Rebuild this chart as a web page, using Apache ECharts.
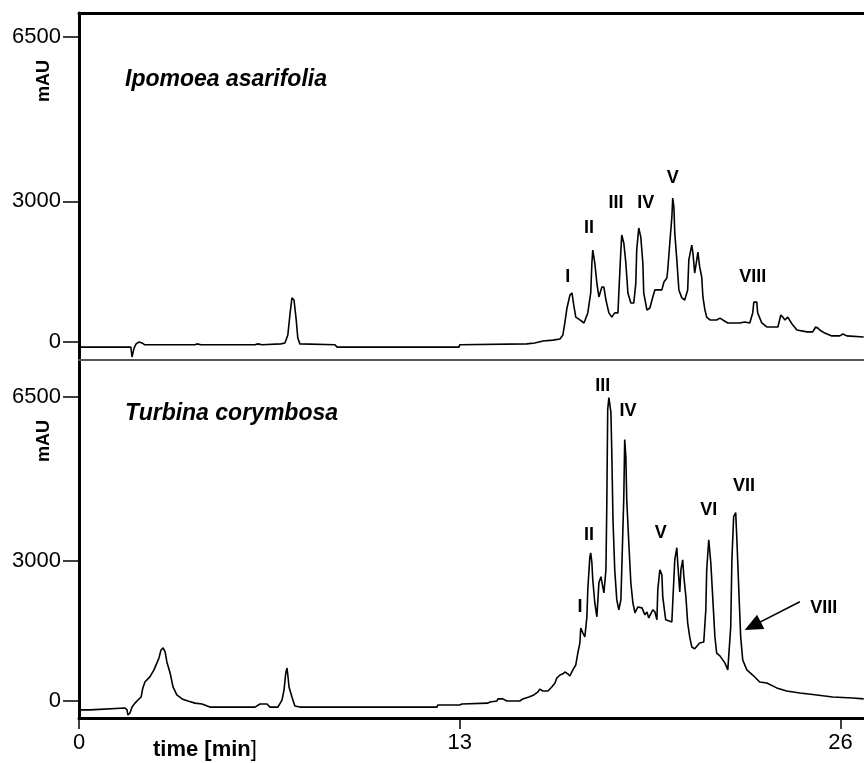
<!DOCTYPE html>
<html>
<head>
<meta charset="utf-8">
<script src="https://cdn.jsdelivr.net/npm/echarts@6/dist/echarts.min.js"></script>
<style>
html,body{margin:0;padding:0;background:#fff;}
#chart{width:864px;height:763px;}
</style>
</head>
<body>
<div id="chart"></div>
<script>
// ---- data (time in min, absorbance in mAU) ----
const timeTicks = [0, 13, 26];
const mauTicks = [0, 3000, 6500];
const panelTitles = ['Ipomoea asarifolia', 'Turbina corymbosa'];
const yAxisTitle = 'mAU';
const xAxisTitle = 'time [min';

const ipomoeaTrace = [
 [0,-110],[1.77,-110],[1.81,-320],[1.84,-340],[1.88,-130],[1.95,-40],[2.05,0],[2.15,-20],[2.25,-60],
 [3.11,-60],[3.17,-40],[3.28,-60],[3.96,-60],[4.03,-40],[4.16,-60],[6.01,-60],[6.11,-40],[6.25,-60],
 [6.89,-40],[7.03,-20],[7.13,150],[7.20,575],[7.27,940],[7.34,895],[7.41,510],[7.47,85],[7.54,-40],
 [8.74,-60],[8.81,-110],[12.97,-110],[13.00,-60],[15.29,-40],[15.56,-20],[15.84,20],[16.18,40],[16.42,65],
 [16.52,150],[16.59,425],[16.66,725],[16.76,1000],[16.83,1045],[16.89,790],[16.96,530],[17.10,470],
 [17.24,405],[17.37,620],[17.47,1045],[17.51,1680],[17.54,1960],[17.61,1680],[17.68,1255],[17.75,960],
 [17.85,1170],[17.92,1170],[17.99,895],[18.09,620],[18.19,530],[18.29,620],[18.40,620],[18.43,1045],
 [18.50,1960],[18.53,2280],[18.60,2110],[18.67,1680],[18.74,1045],[18.84,830],[18.94,830],[19.01,1255],
 [19.04,1960],[19.11,2430],[19.18,2235],[19.25,1680],[19.28,1045],[19.39,680],[19.49,725],[19.59,960],
 [19.66,1110],[19.76,1110],[19.90,1110],[19.97,1280],[20.07,1365],[20.10,1535],[20.17,2110],[20.24,2660],
 [20.27,3070],[20.31,2875],[20.34,2320],[20.41,1750],[20.48,1110],[20.58,940],[20.68,895],[20.78,1110],
 [20.82,1750],[20.92,2065],[20.96,1895],[21.02,1470],[21.09,1750],[21.13,1915],[21.19,1600],[21.26,1385],
 [21.30,960],[21.37,680],[21.43,530],[21.54,470],[21.77,470],[21.88,510],[21.98,470],[22.15,405],
 [22.56,405],[22.73,425],[22.90,405],[23.00,620],[23.04,850],[23.14,850],[23.17,620],[23.31,405],
 [23.48,320],[23.86,320],[23.96,575],[24.03,530],[24.10,470],[24.20,530],[24.30,425],[24.37,360],
 [24.51,255],[24.85,215],[25.05,215],[25.15,320],[25.22,300],[25.29,255],[25.46,190],[25.70,130],
 [25.97,130],[26.08,170],[26.21,130],[26.79,105]
];

const turbinaTrace = [
 [0,-190],[0.38,-190],[0.44,-150],[1.57,-150],[1.64,-190],[1.67,-300],[1.74,-255],[1.81,-130],[1.91,-45],
 [2.01,20],[2.12,85],[2.18,280],[2.25,405],[2.42,515],[2.56,665],[2.66,815],[2.73,920],[2.80,1090],
 [2.87,1135],[2.94,1050],[3.00,835],[3.11,600],[3.21,300],[3.34,130],[3.52,45],[3.72,0],[3.96,-45],
 [4.20,-65],[4.47,-130],[6.01,-130],[6.18,-65],[6.42,-65],[6.52,-130],[6.79,-130],[6.93,20],[7.00,235],
 [7.06,600],[7.10,705],[7.13,555],[7.17,300],[7.27,85],[7.37,-105],[7.54,-130],[12.22,-130],[12.25,-85],
 [13.00,-85],[13.07,-65],[13.96,-45],[14.03,-20],[14.27,0],[14.30,45],[14.47,45],[14.61,0],[15.05,0],
 [15.15,45],[15.36,85],[15.53,130],[15.67,195],[15.73,255],[15.84,215],[16.01,215],[16.14,300],[16.25,385],
 [16.31,490],[16.42,555],[16.52,580],[16.59,620],[16.69,580],[16.76,535],[16.86,665],[16.96,770],
 [17.03,1025],[17.10,1240],[17.13,1560],[17.20,1455],[17.27,1370],[17.34,1800],[17.37,2375],[17.44,3080],
 [17.47,3165],[17.51,2955],[17.54,2590],[17.61,2095],[17.68,1800],[17.75,2525],[17.82,2655],[17.85,2545],
 [17.92,2310],[17.99,2805],[18.02,4235],[18.05,6225],[18.09,6485],[18.16,6165],[18.19,5305],[18.23,3875],
 [18.29,2805],[18.36,2160],[18.43,1950],[18.50,2160],[18.53,2805],[18.60,4365],[18.63,5585],[18.67,5220],
 [18.70,4300],[18.77,3380],[18.84,2525],[18.91,2095],[18.98,1885],[19.08,2010],[19.22,1990],[19.32,1840],
 [19.39,1905],[19.45,1775],[19.59,1950],[19.66,1905],[19.73,1735],[19.76,2375],[19.83,2805],[19.90,2695],
 [19.93,2225],[20.03,1735],[20.24,1690],[20.27,2095],[20.34,3015],[20.41,3275],[20.44,2955],[20.51,2330],
 [20.55,2805],[20.61,3015],[20.65,2655],[20.72,2225],[20.78,1670],[20.85,1370],[20.92,1155],[21.02,1115],
 [21.19,1240],[21.33,1260],[21.40,1950],[21.43,2805],[21.50,3445],[21.57,2955],[21.64,2160],[21.71,1370],
 [21.77,1025],[21.88,965],[22.05,815],[22.15,665],[22.25,1585],[22.29,3015],[22.35,3940],[22.42,4025],
 [22.46,3445],[22.53,2310],[22.59,1370],[22.66,875],[22.80,665],[23.00,555],[23.24,405],[23.48,385],
 [23.82,280],[24.16,215],[24.61,170],[25.19,130],[25.73,85],[26.42,65],[26.79,45]
];

// peak labels: [time, mAU at label centre, name]
const ipomoeaPeaks = [
 [16.69,1385,'I'],[17.41,2430,'II'],[18.33,2960,'III'],[19.35,2960,'IV'],[20.27,3490,'V'],[23.00,1385,'VIII']
];
const turbinaPeaks = [
 [17.10,2010,'I'],[17.41,3550,'II'],[17.88,6740,'III'],[18.74,6185,'IV'],[19.86,3595,'V'],
 [21.50,4090,'VI'],[22.70,4600,'VII'],[25.43,1990,'VIII']
];
// arrow pointing at peak VIII (tail -> head) in the lower trace
const arrowTail = [24.61, 2120];
const arrowHead = [23.00, 1605];

// ---- chart ----
const chart = echarts.init(document.getElementById('chart'), null, {renderer: 'canvas'});
const FONT = '"Liberation Sans", Arial, sans-serif';
const XMAX = 26.8;

function xAxisBase(gridIndex, extra) {
  return Object.assign({
    type: 'value', gridIndex: gridIndex, min: 0, max: XMAX,
    splitLine: {show: false}, axisTick: {show: false}, axisLabel: {show: false}
  }, extra);
}
function yAxisBase(gridIndex, min, max) {
  return {
    type: 'value', gridIndex: gridIndex, min: min, max: max,
    splitLine: {show: false},
    axisLine: {show: true, lineStyle: {color: '#000', width: 3}},
    axisTick: {show: true, length: 16, customValues: mauTicks, lineStyle: {color: '#000', width: 1.5}},
    axisLabel: {show: true, customValues: mauTicks, margin: 18, color: '#000', fontSize: 22,
      fontFamily: FONT, formatter: v => String(v)}
  };
}
function peakSeries(data, xi, yi) {
  return {
    type: 'scatter', xAxisIndex: xi, yAxisIndex: yi, data: data,
    symbolSize: 0, itemStyle: {color: '#000', opacity: 1}, silent: true, z: 5,
    emphasis: {disabled: true},
    label: {show: true, position: 'inside', formatter: p => p.data[2],
      color: '#000', opacity: 1, fontSize: 18, fontWeight: 'bold', fontFamily: FONT}
  };
}

const option = {
  animation: false,
  backgroundColor: '#fff',
  grid: [
    {left: 79, top: 13, right: 0, height: 347},
    {left: 79, top: 360, right: 0, height: 358}
  ],
  xAxis: [
    xAxisBase(0, {position: 'bottom', axisLine: {show: true, onZero: false, lineStyle: {color: '#555', width: 2}}}),
    xAxisBase(0, {position: 'top', axisLine: {show: true, onZero: false, lineStyle: {color: '#000', width: 3}}}),
    xAxisBase(1, {position: 'bottom',
      axisLine: {show: true, onZero: false, lineStyle: {color: '#000', width: 3}},
      axisTick: {show: true, length: 11, customValues: timeTicks, lineStyle: {color: '#000', width: 1.5}},
      axisLabel: {show: true, customValues: timeTicks, margin: 14, color: '#000', fontSize: 22, fontFamily: FONT}})
  ],
  yAxis: [
    yAxisBase(0, -384, 7014),
    yAxisBase(1, -363, 7286)
  ],
  series: [
    {type: 'line', name: panelTitles[0], xAxisIndex: 0, yAxisIndex: 0, data: ipomoeaTrace,
     showSymbol: false, lineStyle: {color: '#000', width: 1.6}, silent: true},
    {type: 'line', name: panelTitles[1], xAxisIndex: 2, yAxisIndex: 1, data: turbinaTrace,
     showSymbol: false, lineStyle: {color: '#000', width: 1.6}, silent: true,
     markLine: {silent: true, symbol: ['none', 'triangle'], symbolSize: [16, 18],
       lineStyle: {color: '#000', width: 1.6, type: 'solid'}, label: {show: false},
       data: [[{coord: arrowTail}, {coord: arrowHead}]]}},
    peakSeries(ipomoeaPeaks, 0, 0),
    peakSeries(turbinaPeaks, 2, 1)
  ],
  graphic: [
    {type: 'text', left: 125, top: 68, style: {text: panelTitles[0], fill: '#000',
      font: 'italic bold 23px ' + FONT}},
    {type: 'text', left: 125, top: 402, style: {text: panelTitles[1], fill: '#000',
      font: 'italic bold 23px ' + FONT}},
    {type: 'text', x: 44, y: 81, rotation: Math.PI / 2, style: {text: yAxisTitle, fill: '#000',
      font: 'bold 18px ' + FONT, align: 'center', verticalAlign: 'middle'}},
    {type: 'text', x: 44, y: 441, rotation: Math.PI / 2, style: {text: yAxisTitle, fill: '#000',
      font: 'bold 18px ' + FONT, align: 'center', verticalAlign: 'middle'}},
    {type: 'text', x: 153, y: 750, style: {
      rich: {b: {font: 'bold 22px ' + FONT, fill: '#000'}, n: {font: '22px ' + FONT, fill: '#000'}},
      text: '{b|' + xAxisTitle + '}{n|]}', verticalAlign: 'middle'}}
  ]
};
chart.setOption(option);
</script>
</body>
</html>
